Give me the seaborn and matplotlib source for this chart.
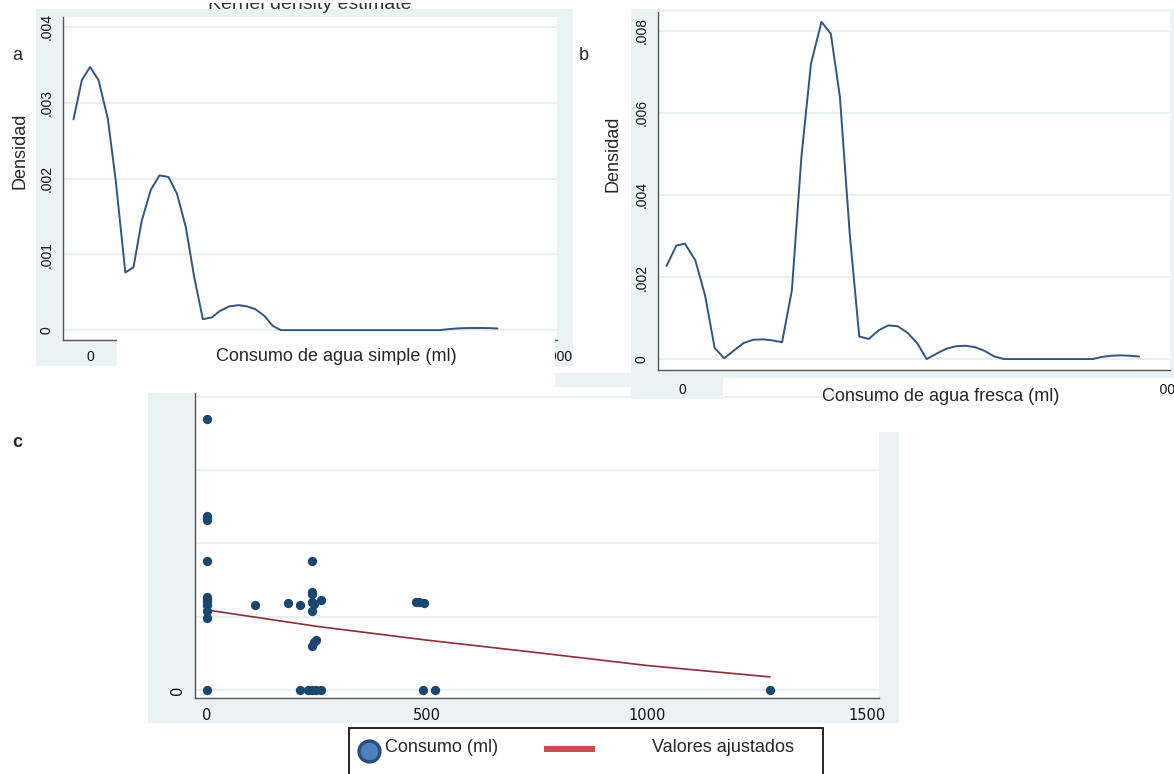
import numpy as np
import pandas as pd
import matplotlib
matplotlib.use("Agg")
import matplotlib.pyplot as plt
from matplotlib.patches import Rectangle
from matplotlib.lines import Line2D
import seaborn as sns

# ------------------ datos ------------------
# a: densidad kernel, consumo de agua simple (ml)
a_x = [-71, -35, 0, 36, 76, 110, 151, 186, 221, 260, 297, 336, 372, 410, 446, 483,
       521, 557, 596, 636, 672, 707, 746, 782, 817, 1000, 1200, 1495,
       1532, 1569, 1606, 1643, 1680, 1717, 1745]
a_y = [0.00278, 0.00330, 0.00347, 0.00330, 0.00279, 0.00197, 0.00076, 0.00083,
       0.00144, 0.00185, 0.00204, 0.00202, 0.00180, 0.00136, 0.00070, 0.000145,
       0.000167, 0.000255, 0.000313, 0.00033, 0.000313, 0.000278, 0.00019, 0.000057,
       0.0, 0.0, 0.0, 0.0,
       0.000012, 0.000022, 0.000027, 0.000028, 0.000028, 0.000026, 0.000022]

# b: densidad kernel, consumo de agua fresca (ml)
b_x = [-64, -23, 13, 56, 97, 137, 177, 218, 258, 298, 339, 379, 419, 460, 500,
       540, 584, 623, 661, 702, 742, 782, 823, 863, 903, 944, 984, 1024, 1065,
       1105, 1145, 1185, 1226, 1266, 1306, 1347, 1500, 1718, 1755, 1795, 1835,
       1876, 1913]
b_y = [0.00227, 0.00277, 0.00281, 0.00241, 0.00155, 0.00027, 0.00002, 0.00021,
       0.00039, 0.00047, 0.00048, 0.000455, 0.00041, 0.00167, 0.00493, 0.00720,
       0.00822, 0.00793, 0.00639, 0.00306, 0.00055, 0.00049, 0.00070, 0.00082,
       0.00080, 0.00064, 0.00039, 0.0, 0.00013, 0.00025, 0.00031, 0.000325,
       0.00029, 0.00020, 0.000065, 0.0, 0.0, 0.0, 0.00005, 0.00008, 0.00009,
       0.00008, 0.00006]

# c: dispersion consumo (ml) y valores ajustados
c_x = [0, 0, 0, 0, 0, 0, 0, 0, 0, 0, 0, 0,
       110, 185, 212, 239, 239, 239, 239, 243, 259, 239, 247, 243, 239,
       212, 230, 239, 249, 260, 475, 483, 493, 492, 518, 1280]
c_y = [1849, 1190, 1175, 1158, 881, 637, 621, 605, 582, 537, 489, 0,
       580, 594, 580, 881, 671, 655, 598, 587, 616, 541, 340, 324, 301,
       0, 0, 0, 0, 0, 603, 598, 594, 0, 0, 0]
fit_x = [0, 250, 500, 750, 1000, 1280]
fit_y = [546, 434, 340, 255, 167, 89]

dens_ticks_a = [0, 0.001, 0.002, 0.003, 0.004]
dens_labels_a = ["0", ".001", ".002", ".003", ".004"]
dens_ticks_b = [0, 0.002, 0.004, 0.006, 0.008]
dens_labels_b = ["0", ".002", ".004", ".006", ".008"]
ml_ticks = [0, 500, 1000, 1500, 2000]
ml_labels = ["0", "", "", "", "2000"]   # las intermedias quedan tapadas en el original
c_xticks = [0, 500, 1000, 1500]
c_yticks = [0, 500, 1000, 1500, 2000]
c_ylabels = ["0", "", "", "", ""]

# ------------------ estilo ------------------
W, H = 1174, 774
BG = "#eaf2f3"
GRID = "#e6eef0"
NAVY = "#30567f"
DOT = "#1a476f"
MAROON = "#8e2d35"
AXC = "#555555"

sns.set_style("white")
plt.rcParams["font.family"] = ["Liberation Sans", "DejaVu Sans"]

fig = plt.figure(figsize=(W / 100, H / 100), dpi=100)


def fx(px):
    return px / W


def fy(py):
    return 1 - py / H


def box(x0, y0, x1, y1, color, z):
    fig.add_artist(Rectangle((fx(x0), fy(y1)), (x1 - x0) / W, (y1 - y0) / H,
                             transform=fig.transFigure, facecolor=color,
                             edgecolor="none", zorder=z))


def axes_px(x0, y0, x1, y1, z):
    ax = fig.add_axes([fx(x0), fy(y1), (x1 - x0) / W, (y1 - y0) / H])
    ax.set_zorder(z)
    return ax


def stata_axes(ax, tick_size):
    ax.set_facecolor("white")
    for s in ["top", "right"]:
        ax.spines[s].set_visible(False)
    for s in ["left", "bottom"]:
        ax.spines[s].set_color(AXC)
        ax.spines[s].set_linewidth(1.0)
    ax.tick_params(direction="out", length=4, width=0.9, color=AXC,
                   labelsize=tick_size, labelcolor="#111111", pad=3)
    ax.grid(axis="y", color=GRID, linewidth=1.3)
    ax.set_axisbelow(True)
    ax.set_xlabel("")
    ax.set_ylabel("")


def ftext(x, y, s, **kw):
    kw.setdefault("zorder", 10)
    fig.text(fx(x), fy(y), s, **kw)


# ------------------ panel c ------------------
box(148, 393, 879, 723, BG, -2)
box(879, 432, 899, 723, BG, -2)
axc = axes_px(195, 393, 879, 698, 0)
sns.scatterplot(x=c_x, y=c_y, ax=axc, color=DOT, s=45, linewidth=0, zorder=3)
sns.lineplot(x=fit_x, y=fit_y, ax=axc, color=MAROON, linewidth=1.2, estimator=None, zorder=2)
stata_axes(axc, 11)
axc.set_xlim(-27, 1528)
axc.set_ylim(-55, 2027)
axc.set_xticks(c_xticks)
axc.set_xticklabels([str(v) for v in c_xticks], family="DejaVu Sans", fontsize=10.5)
axc.set_yticks(c_yticks)
axc.set_yticklabels(c_ylabels, rotation=90, va="center", family="DejaVu Sans", fontsize=10.5)
ftext(17, 442, "c", fontsize=13, fontweight="bold", ha="center", va="center")

# leyenda
fig.add_artist(Rectangle((fx(349), fy(790)), (823 - 349) / W, (790 - 728) / H,
                         transform=fig.transFigure, facecolor="white",
                         edgecolor="#111111", linewidth=1.3, zorder=6))
fig.add_artist(Line2D([fx(369)], [fy(751)], transform=fig.transFigure, marker="o",
                      markersize=15, markerfacecolor="#4f81bd", markeredgecolor="#2e4f7d",
                      markeredgewidth=2.5, linestyle="none", zorder=7))
fig.add_artist(Line2D([fx(544), fx(595)], [fy(749), fy(749)], transform=fig.transFigure,
                      color="#c0504d", linewidth=4.3, solid_capstyle="butt", zorder=7))
ftext(385, 747, "Consumo (ml)", fontsize=13, ha="left", va="center")
ftext(652, 747, "Valores ajustados", fontsize=13, ha="left", va="center")

# ------------------ panel a ------------------
box(36, 9, 573, 366, BG, 1)
axa = axes_px(63, 17, 557, 340, 2)
sns.lineplot(x=a_x, y=a_y, ax=axa, color=NAVY, linewidth=1.4, estimator=None)
stata_axes(axa, 10)
axa.set_xlim(-116, 2000)
axa.set_ylim(-0.00013, 0.00413)
axa.set_xticks(ml_ticks)
axa.set_xticklabels(ml_labels)
axa.set_yticks(dens_ticks_a)
axa.set_yticklabels(dens_labels_a, rotation=90, va="center")
box(117, 336, 555, 382, "white", 3)
box(555, 373, 631, 387, BG, 3)
ftext(310, 9, "Kernel density estimate", fontsize=14, color="#333333",
      ha="center", va="baseline")
box(180, 0, 440, 3, "white", 11)
ftext(17, 55, "a", fontsize=13, ha="center", va="center")
ftext(20, 151, "Densidad", fontsize=13, rotation=90, ha="center", va="center")
ftext(336, 357, "Consumo de agua simple (ml)", fontsize=13, ha="center", va="center")

# ------------------ panel b ------------------
box(631, 9, 1174, 378, BG, 1)
box(631, 369, 723, 399, BG, 1)
axb = axes_px(658, 12, 1170, 370, 2)
sns.lineplot(x=b_x, y=b_y, ax=axb, color=NAVY, linewidth=1.4, estimator=None)
stata_axes(axb, 10)
axb.set_xlim(-100, 2042)
axb.set_ylim(-0.000267, 0.00846)
axb.set_xticks(ml_ticks)
axb.set_xticklabels(ml_labels)
axb.tick_params(axis="x", pad=5)
axb.set_yticks(dens_ticks_b)
axb.set_yticklabels(dens_labels_b, rotation=90, va="center")
box(723, 378, 1160, 396, "white", 3)
ftext(584, 55, "b", fontsize=13, ha="center", va="center")
ftext(613, 154, "Densidad", fontsize=13, rotation=90, ha="center", va="center")
ftext(941, 397, "Consumo de agua fresca (ml)", fontsize=13, ha="center", va="center")

fig.savefig("out.png", dpi=100, facecolor="white")
